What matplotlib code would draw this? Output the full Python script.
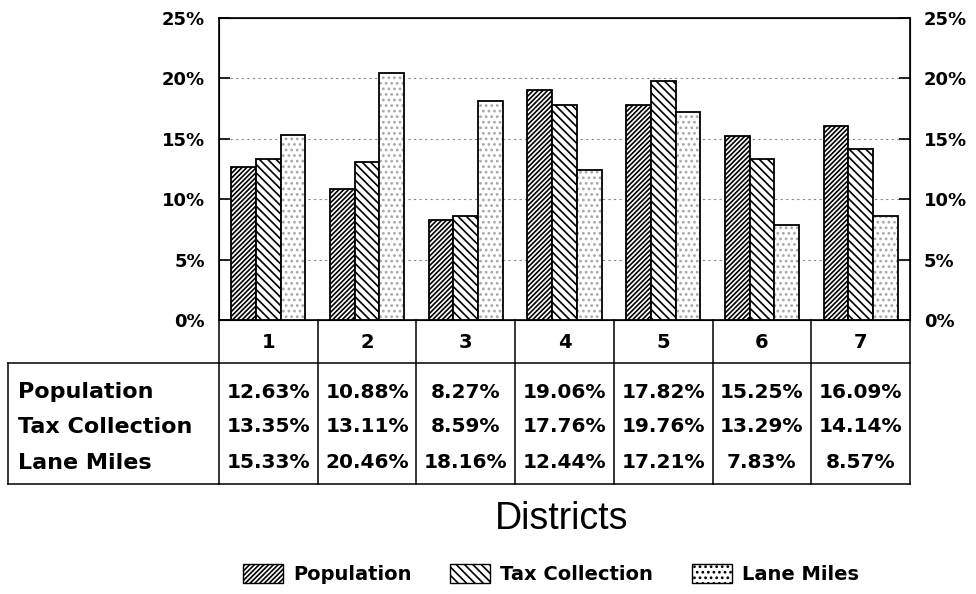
import numpy as np
import matplotlib.pyplot as plt
from matplotlib.patches import Patch
from matplotlib.transforms import blended_transform_factory

# donnees
districts = ["1", "2", "3", "4", "5", "6", "7"]
population = [12.63, 10.88, 8.27, 19.06, 17.82, 15.25, 16.09]
tax_collection = [13.35, 13.11, 8.59, 17.76, 19.76, 13.29, 14.14]
lane_miles = [15.33, 20.46, 18.16, 12.44, 17.21, 7.83, 8.57]
series_names = ["Population", "Tax Collection", "Lane Miles"]
yticks = [0, 5, 10, 15, 20, 25]

plt.rcParams['hatch.linewidth'] = 1.2

W, H = 976, 594
fig = plt.figure(figsize=(W / 100, H / 100), dpi=100)
ax = fig.add_axes([219 / W, 1 - 320 / H, (910 - 219) / W, (320 - 18) / H])
axh = 302.0  # hauteur des axes en pixels

x = np.arange(len(districts))
bw = 0.25

ax.bar(x - bw, population, bw, color='white', edgecolor='black', hatch='///////', linewidth=1.3, zorder=3)
ax.bar(x, tax_collection, bw, color='white', edgecolor='black', hatch='\\\\\\\\', linewidth=1.3, zorder=3)
ax.bar(x + bw, lane_miles, bw, color='white', edgecolor='#a8a8a8', hatch='...', linewidth=0, zorder=3)
ax.bar(x + bw, lane_miles, bw, color='none', edgecolor='black', linewidth=1.3, zorder=4)

ax.set_xlim(-0.5, len(districts) - 0.5)
ax.set_ylim(0, 25)
ax.set_xticks([])
ax.set_yticks(yticks)
ax.set_yticklabels([f"{v}%" for v in yticks])
ax.yaxis.grid(True, linestyle=(0, (2, 3)), color='#888888', linewidth=0.8, zorder=0)
ax.tick_params(axis='y', direction='in', length=8, width=1.2, pad=10)
for lbl in ax.get_yticklabels():
    lbl.set_fontsize(13)
    lbl.set_fontweight('bold')
for s in ax.spines.values():
    s.set_linewidth(1.2)

ax2 = ax.twinx()
ax2.set_ylim(0, 25)
ax2.set_yticks(yticks)
ax2.set_yticklabels([f"{v}%" for v in yticks])
ax2.tick_params(axis='y', direction='in', length=8, width=1.2, pad=10)
for lbl in ax2.get_yticklabels():
    lbl.set_fontsize(13)
    lbl.set_fontweight('bold')

# tableau sous le graphique
tr = blended_transform_factory(ax.transData, ax.transAxes)
trf = blended_transform_factory(fig.transFigure, ax.transAxes)
y_head_bot = -(363 - 320) / axh
y_box_bot = -(484 - 320) / axh
left_fig = 8 / W
lw = 1.1
n = len(districts)

for k in range(n + 1):
    ax.plot([k - 0.5, k - 0.5], [0, y_box_bot], transform=tr, color='black', lw=lw, clip_on=False)
ax.plot([-0.5, n - 0.5], [y_head_bot, y_head_bot], transform=tr, color='black', lw=lw, clip_on=False)
ax.plot([-0.5, n - 0.5], [y_box_bot, y_box_bot], transform=tr, color='black', lw=lw, clip_on=False)
ax.plot([left_fig, 219 / W], [y_head_bot, y_head_bot], transform=trf, color='black', lw=lw, clip_on=False)
ax.plot([left_fig, 219 / W], [y_box_bot, y_box_bot], transform=trf, color='black', lw=lw, clip_on=False)
ax.plot([left_fig, left_fig], [y_head_bot, y_box_bot], transform=trf, color='black', lw=lw, clip_on=False)

for i, d in enumerate(districts):
    ax.text(i, -(342 - 320) / axh, d, transform=tr, ha='center', va='center', fontsize=14, fontweight='bold')

rows = [population, tax_collection, lane_miles]
row_y = [-(392 - 320) / axh, -(427 - 320) / axh, -(463 - 320) / axh]
for name, vals, yy in zip(series_names, rows, row_y):
    ax.text(18 / W, yy, name, transform=trf, ha='left', va='center', fontsize=16, fontweight='bold')
    for i, v in enumerate(vals):
        ax.text(i, yy, f"{v:.2f}%", transform=tr, ha='center', va='center', fontsize=14.5,
                fontweight='bold')

fig.text(562 / W, 1 - 519 / H, "Districts", ha='center', va='center', fontsize=27,
         family=['Liberation Sans', 'DejaVu Sans'])

handles = [
    Patch(facecolor='white', edgecolor='black', hatch='///////'),
    Patch(facecolor='white', edgecolor='black', hatch='\\\\\\\\'),
    Patch(facecolor='white', edgecolor='black', hatch='...'),
]
leg = fig.legend(handles, series_names, loc='center', bbox_to_anchor=(551 / W, 1 - 574 / H),
                 ncol=3, frameon=False, handlelength=2.06, handleheight=1.1,
                 columnspacing=2.0, handletextpad=0.5, borderpad=0, borderaxespad=0,
                 prop={'weight': 'bold', 'size': 14})

fig.savefig("out.png", dpi=100)
